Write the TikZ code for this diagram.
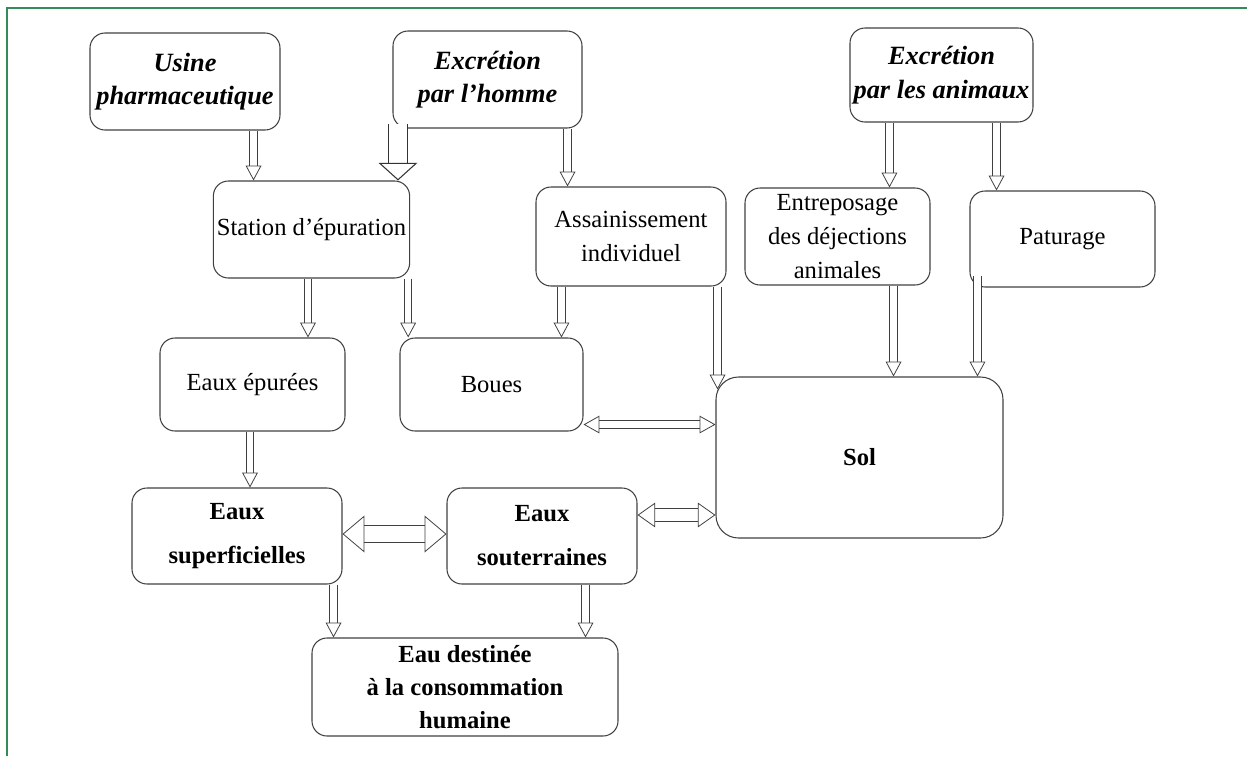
\documentclass[tikz,border=0pt]{standalone}
\usepackage{fontspec}
\setmainfont{Liberation Serif}
\usetikzlibrary{arrows.meta,calc}

\begin{document}
\begin{tikzpicture}[
	box/.style={shape=rectangle, draw=black!75, line width=0.6pt, rounded corners=0.3cm, align=center, inner sep=2pt, font=\fontsize{14}{19}\selectfont},
	src/.style={box, font=\fontsize{15}{19}\selectfont\bfseries\itshape},
	wat/.style={box, font=\fontsize{14}{19}\selectfont\bfseries},
	flow/.style={draw=black!75, line width=0.45pt, double, double distance=3.7pt, -{Triangle[open, line width=0.45pt, length=8.5pt, width=9pt]}},
	flowbig/.style={draw=black!80, line width=0.6pt, double, double distance=10.5pt, -{Triangle[open, line width=0.6pt, length=10pt, width=22pt]}},
	both/.style={draw=black!75, line width=0.45pt, double, double distance=4.2pt, {Triangle[open, line width=0.45pt, length=9pt, width=10pt]}-{Triangle[open, line width=0.45pt, length=9pt, width=10pt]}},
	bothmid/.style={draw=black!75, line width=0.45pt, double, double distance=7pt, {Triangle[open, line width=0.45pt, length=10pt, width=14pt]}-{Triangle[open, line width=0.45pt, length=10pt, width=14pt]}},
	bothbig/.style={draw=black!75, line width=0.45pt, double, double distance=9.4pt, {Triangle[open, line width=0.45pt, length=12.5pt, width=21pt]}-{Triangle[open, line width=0.45pt, length=12.5pt, width=21pt]}}
]	% Frame, nodes and arrows:
	\useasboundingbox (0,0) rectangle (24.94,-15.12);
	\draw[color={rgb,255:red,52;green,139;blue,90}, line width=1.4pt] (0.14,-15.12) -- (0.14,-0.16) -- (24.94,-0.16);
	\node[src, minimum width=3.8cm, minimum height=1.94cm] (usine) at (3.70,-1.63) {Usine\\pharmaceutique};
	\node[src, minimum width=3.78cm, minimum height=1.94cm] (homme) at (9.75,-1.59) {Excrétion\\par l'homme};
	\node[src, minimum width=3.66cm, minimum height=1.88cm] (animaux) at (18.83,-1.5) {Excrétion\\par les animaux};
	\node[box, minimum width=3.86cm, minimum height=1.94cm] (station) at (6.23,-4.59) {Station d'épuration};
	\node[box, minimum width=3.8cm, minimum height=1.98cm] (assain) at (12.62,-4.73) {Assainissement\\individuel};
	\node[box, minimum width=3.7cm, minimum height=1.94cm, font=\fontsize{14}{19.5}\selectfont] (entrepo) at (16.75,-4.73) {Entreposage\\des déjections\\animales};
	\node[box, minimum width=3.7cm, minimum height=1.92cm] (paturage) at (21.25,-4.78) {Paturage};
	\node[box, minimum width=3.7cm, minimum height=1.86cm] (epurees) at (5.05,-7.69) {Eaux épurées};
	\node[box, minimum width=3.66cm, minimum height=1.86cm] (boues) at (9.83,-7.69) {Boues};
	\node[wat, minimum width=5.74cm, minimum height=3.22cm, rounded corners=0.45cm] (sol) at (17.19,-9.15) {Sol};
	\node[wat, minimum width=4.2cm, minimum height=1.92cm] (superf) at (4.74,-10.72) {Eaux\\[6pt]superficielles};
	\node[wat, minimum width=3.8cm, minimum height=1.92cm] (souter) at (10.84,-10.72) {Eaux\\[6pt]souterraines};
	\node[wat, minimum width=6.12cm, minimum height=1.96cm] (conso) at (9.3,-13.74) {Eau destinée\\à la consommation\\humaine};
	\draw[flow] ([xshift=-0.54cm]usine.south east) coordinate (a1) -- (a1 |- station.north);
	\draw[flowbig] ([shift={(0.11,0.1)}]homme.south west) coordinate (a2) -- (a2 |- station.north);
	\draw[flow] ([xshift=-0.3cm]homme.south east) coordinate (a3) -- (a3 |- assain.north);
	\draw[flow] ([xshift=0.8cm]animaux.south west) coordinate (a4) -- (a4 |- entrepo.north);
	\draw[flow] ([xshift=-0.74cm]animaux.south east) coordinate (a5) -- (a5 |- paturage.north);
	\draw[flow] ([xshift=-0.07cm]station.south) coordinate (a6) -- (a6 |- epurees.north);
	\draw[flow] ([xshift=-0.04cm]station.south east) coordinate (a7) -- (a7 |- boues.north);
	\draw[flow] ([xshift=0.52cm]assain.south west) coordinate (a8) -- (a8 |- boues.north);
	\draw[flow] ([xshift=-0.18cm]assain.south east) coordinate (a9) -- ($(a9 |- sol.north)+(0,-0.26)$);
	\draw[flow] ([xshift=-0.74cm]entrepo.south east) coordinate (a10) -- (a10 |- sol.north);
	\draw[flow] ([shift={(0.16,0.24)}]paturage.south west) coordinate (a11) -- (a11 |- sol.north);
	\draw[flow] ([xshift=-0.05cm]epurees.south) coordinate (a12) -- (a12 |- superf.north);
	\draw[flow] ([xshift=-0.18cm]superf.south east) coordinate (a13) -- (a13 |- conso.north);
	\draw[flow] ([xshift=-1.04cm]souter.south east) coordinate (a14) -- (a14 |- conso.north);
	\draw[both] ([yshift=0.14cm]boues.south east) coordinate (b1) -- (b1 -| sol.west);
	\draw[bothbig] ([yshift=0.04cm]superf.east) coordinate (b2) -- (b2 -| souter.west);
	\draw[bothmid] ([yshift=0.42cm]souter.east) coordinate (b3) -- (b3 -| sol.west);
\end{tikzpicture}
\end{document}
